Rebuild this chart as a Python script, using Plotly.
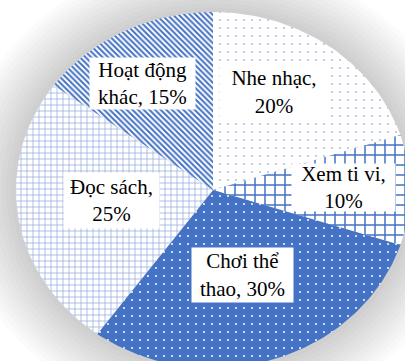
import math
import textwrap
import plotly.graph_objects as go

# ---- data ----
categories = ["Nhe nhạc", "Xem ti vi", "Chơi thể thao", "Đọc sách", "Hoạt động khác"]
values = [20, 10, 30, 25, 15]

# ---- style ----
W, H = 405, 361
CX, CY = 213, 190          # pie centre in px
RX, RY = 197, 178          # pie radii in px (picture is horizontally stretched)
BLUE = "#4472C4"
patterns = [
    dict(shape=".", size=8, solidity=0.04, fgcolor="#a9b7d3", bgcolor="white"),
    dict(shape="+", size=10, solidity=0.28, fgcolor=BLUE, bgcolor="white"),
    dict(shape=".", size=8, solidity=0.05, fgcolor="white", bgcolor=BLUE),
    dict(shape="+", size=6, solidity=0.22, fgcolor="#8fa8dc", bgcolor="white"),
    dict(shape="\\", size=4, solidity=0.5, fgcolor=BLUE, bgcolor="white"),
]
label_pos = [(274, 92), (343, 187), (242, 275), (112, 200), (142, 83)]
label_box = [(108, 50), (103, 47), (101, 54), (95, 55), (105, 51)]

fig = go.Figure()

total = sum(values)
start = 0.0
for name, v, pat in zip(categories, values, patterns):
    frac = v / total
    a0, a1 = start * 2 * math.pi, (start + frac) * 2 * math.pi
    n = max(2, int(frac * 400))
    xs, ys = [0.0], [0.0]
    for i in range(n + 1):
        a = a0 + (a1 - a0) * i / n
        xs.append(math.sin(a))
        ys.append(math.cos(a))
    xs.append(0.0)
    ys.append(0.0)
    fig.add_trace(go.Scatter(
        x=xs, y=ys, mode="lines", fill="toself",
        fillcolor=pat["bgcolor"],
        fillpattern=dict(shape=pat["shape"], size=pat["size"], solidity=pat["solidity"],
                         fgcolor=pat["fgcolor"], bgcolor=pat["bgcolor"], fgopacity=1,
                         fillmode="replace"),
        line=dict(width=0, color=pat["bgcolor"]),
        hoverinfo="skip", showlegend=False, name=name,
    ))
    start += frac

# soft shadow around the pie
shapes = []
for i in range(12):
    R = 1.0 + 0.025 * (i + 1)
    shapes.append(dict(type="circle", xref="x", yref="y", x0=-R, x1=R, y0=-R, y1=R,
                       fillcolor="rgba(0,0,0,0.016)", line=dict(width=0), layer="below"))

annotations = []
for name, v, (px, py), (bw, bh) in zip(categories, values, label_pos, label_box):
    txt = "<br>".join(textwrap.wrap(f"{name}, {v}%", 10))
    annotations.append(dict(
        x=px / W, y=1 - py / H, xref="paper", yref="paper", showarrow=False,
        xanchor="center", yanchor="middle",
        text=txt, align="center", width=bw, height=bh, borderpad=0,
        bgcolor="white", font=dict(family="Liberation Serif", size=21, color="black"),
    ))

fig.update_layout(
    width=W, height=H, margin=dict(l=0, r=0, t=0, b=0),
    paper_bgcolor="white", plot_bgcolor="white",
    xaxis=dict(range=[-CX / RX, (W - CX) / RX], visible=False, fixedrange=True),
    yaxis=dict(range=[-(H - CY) / RY, CY / RY], visible=False, fixedrange=True),
    shapes=shapes, annotations=annotations, showlegend=False,
)

fig.write_html("out.html")
